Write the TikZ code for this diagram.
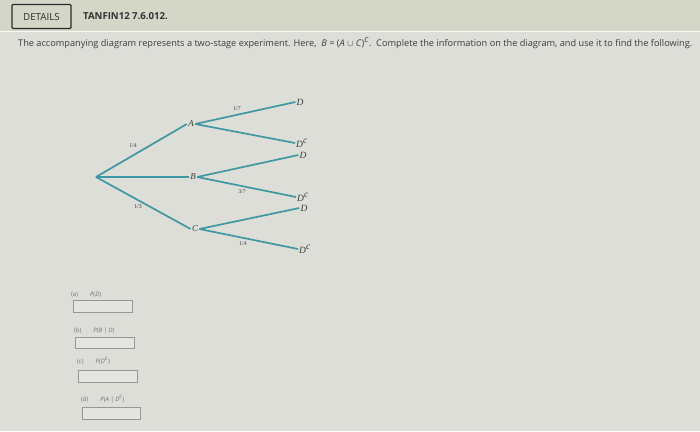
\documentclass[tikz,border=0pt]{standalone}
\usepackage{fontspec}
\setmainfont{Liberation Serif}
\newfontfamily\uisans{Open Sans}
\definecolor{bgbody}{RGB}{221,222,216}
\definecolor{bghead}{RGB}{212,214,200}
\definecolor{teal1}{RGB}{64,152,164}
\definecolor{txtgray}{RGB}{60,62,62}
\definecolor{boxgray}{RGB}{150,152,150}
\tikzset{
  branch/.style={draw=teal1, line width=1.7pt},
  evt/.style={font=\fontsize{9}{9}\selectfont\itshape, text=txtgray, inner sep=1.2pt},
  leaf/.style={font=\fontsize{9.5}{9.5}\selectfont\itshape, text=txtgray, inner sep=1pt},
  prob/.style={font=\fontsize{5.8}{5.8}\selectfont, text=txtgray, inner sep=0pt},
  ansbox/.style={draw=boxgray, line width=0.9pt, fill=bgbody!80!white},
  anslbl/.style={font=\uisans\fontsize{6}{6}\selectfont, text=boxgray!75!black, inner sep=0pt, anchor=west},
}
\begin{document}
\begin{tikzpicture}[x=1pt,y=-1pt]
\useasboundingbox (0,0) rectangle (700,431);
\fill[bgbody] (0,0) rectangle (700,431);
\fill[bghead] (0,0) rectangle (700,31);
\draw[white!85!bghead, line width=0.8pt] (0,31.5) -- (700,31.5);
% header
\node[draw=txtgray!70!black, line width=1.3pt, rounded corners=1pt, minimum width=59pt, minimum height=24pt, inner sep=0pt, font=\uisans\fontsize{9.8}{9.8}\selectfont, text=txtgray!80!black] (details) at (41.5,16.5) {DETAILS};
\node[anchor=west, inner sep=0pt, font=\uisans\bfseries\fontsize{9.6}{9.6}\selectfont, text=txtgray!80!black] (code) at (83,16) {TANFIN12 7.6.012.};
\node[anchor=west, inner sep=0pt, font=\uisans\fontsize{9.2}{9.2}\selectfont, text=txtgray] (intro) at (18,43)
  {The accompanying diagram represents a two-stage experiment. Here,\ \ \textit{B} = (\textit{A} $\cup$ \textit{C})$^{\textit{c}}$.\ \ Complete the information on the diagram, and use it to find the following.};
% tree
\coordinate (root) at (96,177);
\node[evt] (A) at (191,124) {A};
\node[evt] (B) at (193,177) {B};
\node[evt] (C) at (195,229) {C};
\node[leaf] (AD) at (300,102) {D};
\node[leaf] (ADc) at (302,143) {D$^{\textit{c}}$};
\node[leaf] (BD) at (303,155) {D};
\node[leaf] (BDc) at (303,197) {D$^{\textit{c}}$};
\node[leaf] (CD) at (304,208) {D};
\node[leaf] (CDc) at (305,249) {D$^{\textit{c}}$};
\draw[branch] (root) -- (A.west);
\draw[branch] (root) -- (B.west);
\draw[branch] (root) -- (C.west);
\draw[branch] (A.east) -- (AD.west);
\draw[branch] (A.east) -- (ADc.west);
\draw[branch] (B.east) -- (BD.west);
\draw[branch] (B.east) -- (BDc.west);
\draw[branch] (C.east) -- (CD.west);
\draw[branch] (C.east) -- (CDc.west);
\node[prob] (p1) at (133,146) {1/4};
\node[prob] (p2) at (138,207) {1/3};
\node[prob] (p3) at (237,109) {1/7};
\node[prob] (p4) at (242,192) {3/7};
\node[prob] (p5) at (243,244) {1/4};
% answers
\node[anslbl] (la) at (71,295) {(a)\hspace{12pt}\textit{P}(\textit{D})};
\draw[ansbox] (73,300) rectangle (132,312);
\node[anslbl] (lb) at (74,331) {(b)\hspace{12pt}\textit{P}(\textit{B} | \textit{D})};
\draw[ansbox] (75,337) rectangle (134,348);
\node[anslbl] (lc) at (77,361) {(c)\hspace{12pt}\textit{P}(\textit{D}$^{\textit{c}}$)};
\draw[ansbox] (78,370) rectangle (137,382);
\node[anslbl] (ld) at (81,399) {(d)\hspace{12pt}\textit{P}(\textit{A} | \textit{D}$^{\textit{c}}$)};
\draw[ansbox] (82,407) rectangle (140,419);
\end{tikzpicture}
\end{document}
